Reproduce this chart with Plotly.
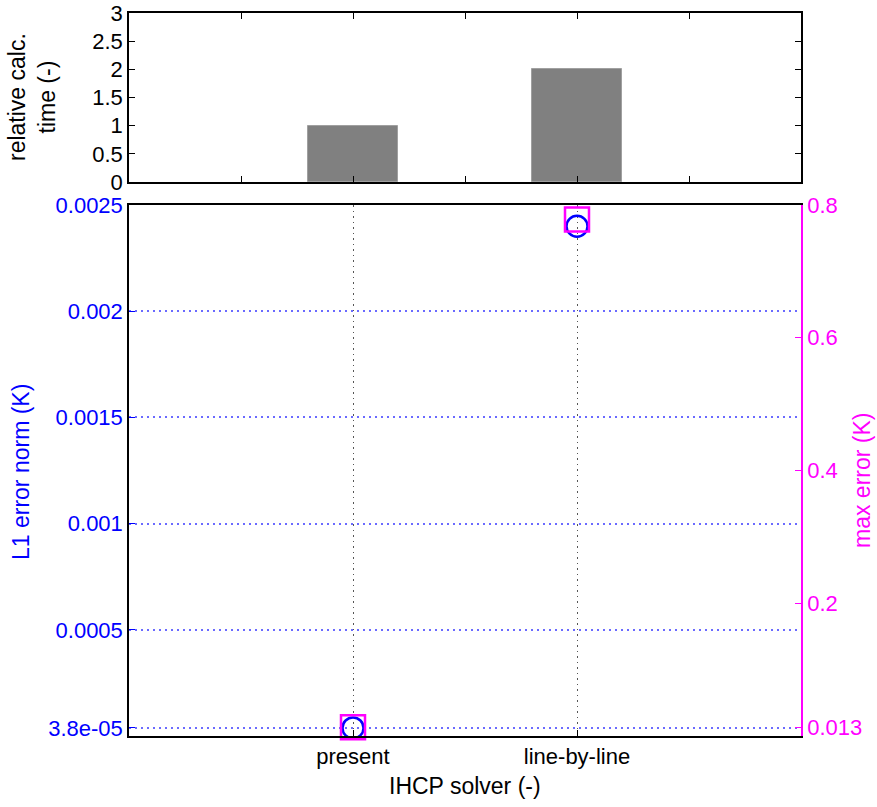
import plotly.graph_objects as go

# ---- data ----
categories = ["present", "line-by-line"]
rel_calc_time = [1.0, 2.0]
l1_error_norm = [3.8e-05, 0.0024]
max_error = [0.013, 0.778]

top_yticks = [0, 0.5, 1, 1.5, 2, 2.5, 3]
left_ticks = [3.8e-05, 0.0005, 0.001, 0.0015, 0.002, 0.0025]
left_ticktext = ["3.8e-05", "0.0005", "0.001", "0.0015", "0.002", "0.0025"]
right_ticks = [0.013, 0.2, 0.4, 0.6, 0.8]
right_ticktext = ["0.013", "0.2", "0.4", "0.6", "0.8"]

x_idx = list(range(len(categories)))

FONT = "Liberation Sans, Arial, Helvetica, sans-serif"
FS = 23
TFS = 22
BLUE = "#0000ff"
MAG = "#ff00ff"

fig = go.Figure()

fig.add_trace(go.Bar(
    x=x_idx, y=rel_calc_time, width=0.4,
    marker=dict(color="#808080", line=dict(color="#a0a0a0", width=1)),
    xaxis="x", yaxis="y", showlegend=False,
))

fig.add_trace(go.Scatter(
    x=x_idx, y=l1_error_norm, mode="markers",
    marker=dict(symbol="circle-open", size=21, color=BLUE, line=dict(color=BLUE, width=2.5)),
    xaxis="x2", yaxis="y2", showlegend=False, cliponaxis=False,
))

fig.add_trace(go.Scatter(
    x=x_idx, y=max_error, mode="markers",
    marker=dict(symbol="square-open", size=24, color=MAG, line=dict(color=MAG, width=2.5)),
    xaxis="x2", yaxis="y3", showlegend=False, cliponaxis=False,
))

H_PLOT = 723.0
bot_dom = [0, 531.0 / H_PLOT]
top_dom = [554.0 / H_PLOT, 1]

fig.update_layout(
    width=877, height=807,
    margin=dict(l=129, r=76, t=13, b=71, autoexpand=False),
    paper_bgcolor="white", plot_bgcolor="white",
    font=dict(family=FONT, size=FS, color="black"),
    bargap=0,
    xaxis=dict(
        domain=[0, 1], anchor="y", range=[-1, 2], automargin=False,
        tickmode="linear", tick0=-0.5, dtick=0.5,
        showticklabels=False, ticks="inside", ticklen=6, tickcolor="black",
        showline=True, linecolor="black", linewidth=1.5, mirror="ticks",
        showgrid=False, zeroline=False,
    ),
    yaxis=dict(
        domain=top_dom, anchor="x", range=[0, 3], automargin=False,
        tickmode="array", tickvals=top_yticks,
        ticktext=[f"{v:g}" for v in top_yticks],
        ticks="inside", ticklen=6, tickcolor="black",
        showline=True, linecolor="black", linewidth=1.5, mirror="ticks",
        showgrid=False, zeroline=False,
        tickfont=dict(size=TFS, color="black"),
    ),
    xaxis2=dict(
        domain=[0, 1], anchor="y2", range=[-1, 2], automargin=False,
        tickmode="array", tickvals=x_idx, ticktext=categories,
        ticks="inside", ticklen=6, tickcolor="black",
        showline=True, linecolor="black", linewidth=1.5, mirror=True,
        showgrid=True, gridcolor="#555555", griddash="1.5px,4px", gridwidth=1.2,
        zeroline=False, tickfont=dict(size=TFS, color="black"),
    ),
    yaxis2=dict(
        domain=bot_dom, anchor="x2", range=[0, 0.0025], automargin=False,
        tickmode="array", tickvals=left_ticks, ticktext=left_ticktext,
        ticks="inside", ticklen=6, tickcolor=BLUE,
        showline=True, linecolor="black", linewidth=1.5,
        showgrid=True, gridcolor="#6a6aff", griddash="1.5px,4.5px", gridwidth=1.5,
        zeroline=False, tickfont=dict(size=TFS, color=BLUE),
    ),
    yaxis3=dict(
        overlaying="y2", side="right", anchor="x2", range=[0, 0.8], automargin=False,
        tickmode="array", tickvals=right_ticks, ticktext=right_ticktext,
        ticks="inside", ticklen=6, tickcolor=MAG,
        showline=True, linecolor=MAG, linewidth=1.5,
        showgrid=False, zeroline=False, tickfont=dict(size=TFS, color=MAG),
    ),
    annotations=[
        dict(text="relative calc.<br>time (-)", xref="paper", yref="paper",
             x=(32 - 129) / 672.0, y=(736 - 97) / H_PLOT, textangle=-90,
             showarrow=False, xanchor="center", yanchor="middle",
             font=dict(size=FS, color="black", family=FONT)),
        dict(text="L1 error norm (K)", xref="paper", yref="paper",
             x=(21 - 129) / 672.0, y=(736 - 472) / H_PLOT, textangle=-90,
             showarrow=False, xanchor="center", yanchor="middle",
             font=dict(size=FS, color=BLUE, family=FONT)),
        dict(text="max error (K)", xref="paper", yref="paper",
             x=(862 - 129) / 672.0, y=(736 - 481) / H_PLOT, textangle=-90,
             showarrow=False, xanchor="center", yanchor="middle",
             font=dict(size=FS, color=MAG, family=FONT)),
        dict(text="IHCP solver (-)", xref="paper", yref="paper",
             x=(465 - 129) / 672.0, y=(736 - 786) / H_PLOT,
             showarrow=False, xanchor="center", yanchor="middle",
             font=dict(size=FS, color="black", family=FONT)),
    ],
)

fig.write_html("out.html")
